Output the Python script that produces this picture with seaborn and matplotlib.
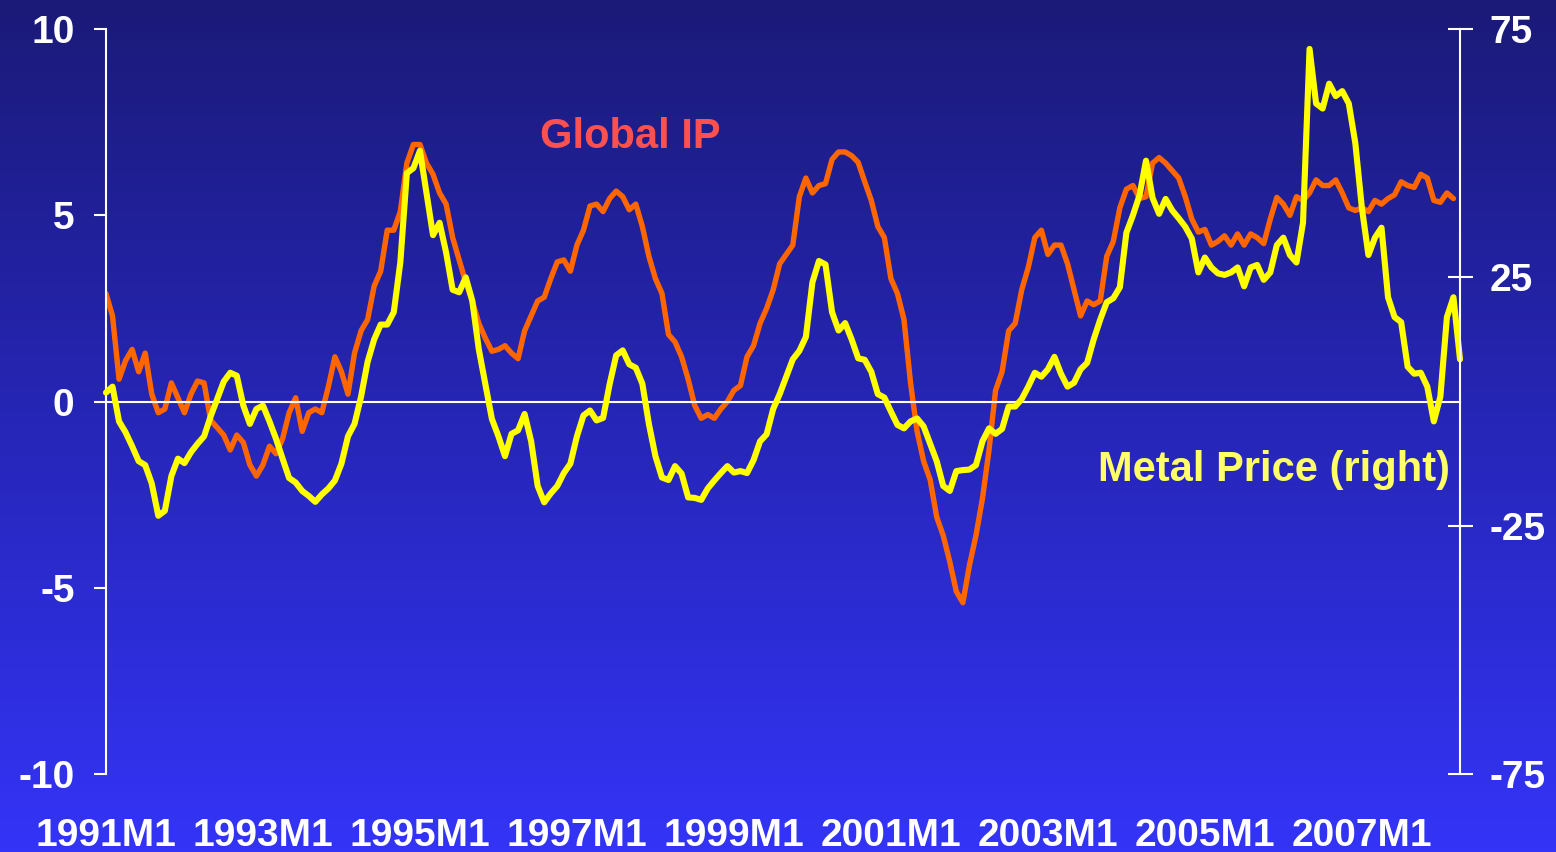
import numpy as np
import pandas as pd
import matplotlib
matplotlib.use("Agg")
import matplotlib.pyplot as plt
from matplotlib.colors import LinearSegmentedColormap
import seaborn as sns

# Monthly series starting 1991M1
global_ip = [
    2.9, 2.3, 0.6, 1.1, 1.4, 0.8, 1.3, 0.2, -0.3, -0.2,
    0.5, 0.1, -0.3, 0.2, 0.55, 0.5, -0.5, -0.7, -0.9, -1.3,
    -0.9, -1.1, -1.7, -2.0, -1.7, -1.2, -1.4, -1.0, -0.3, 0.1,
    -0.8, -0.3, -0.2, -0.3, 0.4, 1.2, 0.8, 0.2, 1.3, 1.9,
    2.2, 3.1, 3.5, 4.6, 4.6, 5.1, 6.4, 6.9, 6.9, 6.4,
    6.1, 5.6, 5.3, 4.4, 3.8, 3.2, 2.7, 2.1, 1.7, 1.35,
    1.4, 1.5, 1.3, 1.15, 1.9, 2.3, 2.7, 2.8, 3.3, 3.75,
    3.8, 3.5, 4.2, 4.6, 5.25, 5.3, 5.1, 5.45, 5.65, 5.5,
    5.15, 5.3, 4.7, 3.9, 3.3, 2.9, 1.8, 1.6, 1.2, 0.6,
    -0.1, -0.45, -0.35, -0.45, -0.2, 0.0, 0.3, 0.43, 1.2, 1.5,
    2.1, 2.5, 3.0, 3.7, 3.95, 4.2, 5.5, 6.0, 5.6, 5.8,
    5.85, 6.5, 6.7, 6.7, 6.6, 6.42, 5.9, 5.4, 4.7, 4.4,
    3.3, 2.9, 2.2, 0.5, -0.8, -1.6, -2.1, -3.1, -3.6, -4.3,
    -5.1, -5.4, -4.4, -3.6, -2.6, -1.3, 0.3, 0.8, 1.9, 2.1,
    3.0, 3.6, 4.4, 4.6, 3.95, 4.2, 4.2, 3.7, 3.0, 2.3,
    2.7, 2.6, 2.7, 3.9, 4.3, 5.2, 5.7, 5.8, 5.45, 5.5,
    6.4, 6.55, 6.4, 6.2, 6.0, 5.5, 4.9, 4.55, 4.62, 4.2,
    4.3, 4.45, 4.2, 4.5, 4.2, 4.5, 4.4, 4.24, 4.9, 5.48,
    5.3, 5.0, 5.5, 5.4, 5.6, 5.95, 5.8, 5.8, 5.95, 5.6,
    5.2, 5.13, 5.2, 5.1, 5.4, 5.3, 5.45, 5.55, 5.9, 5.8,
    5.75, 6.1, 6.0, 5.4, 5.35, 5.6, 5.45,
]

metal_price = [
    1.8, 3.0, -4.0, -6.2, -9.0, -12.0, -12.8, -16.5, -23.0, -22.0,
    -15.0, -11.5, -12.4, -10.2, -8.5, -7.0, -3.0, 0.5, 4.0, 5.8,
    5.2, -0.8, -4.5, -1.5, -0.8, -4.0, -7.5, -11.5, -15.4, -16.3,
    -18.0, -19.0, -20.2, -18.7, -17.5, -15.9, -12.5, -7.0, -4.5, 1.0,
    8.0, 12.5, 15.5, 15.5, 18.0, 28.0, 46.0, 47.0, 50.5, 42.0,
    33.5, 36.0, 30.0, 22.5, 22.0, 25.0, 20.3, 10.5, 3.5, -3.5,
    -7.0, -11.0, -6.5, -5.8, -2.5, -8.0, -17.0, -20.3, -18.5, -17.0,
    -14.4, -12.5, -7.0, -2.8, -1.8, -3.8, -3.3, 3.5, 9.3, 10.3,
    7.5, 6.8, 3.6, -4.5, -11.0, -15.3, -15.8, -13.0, -14.5, -19.3,
    -19.4, -19.8, -17.5, -15.9, -14.4, -13.0, -14.3, -14.0, -14.4, -11.8,
    -8.0, -6.6, -1.5, 1.5, 5.0, 8.5, 10.2, 13.0, 24.0, 28.3,
    27.6, 18.0, 14.3, 15.8, 12.5, 8.7, 8.4, 6.0, 1.5, 0.8,
    -2.0, -4.7, -5.4, -4.0, -3.4, -5.0, -8.5, -12.0, -17.0, -18.0,
    -14.0, -13.8, -13.7, -12.8, -8.0, -5.4, -6.5, -5.5, -1.0, -1.0,
    0.5, 3.0, 5.8, 5.0, 6.5, 9.0, 5.6, 3.0, 3.8, 6.5,
    7.8, 12.5, 16.5, 20.0, 20.8, 23.0, 34.0, 37.5, 41.5, 48.5,
    41.0, 37.8, 40.8, 38.5, 36.9, 35.2, 32.8, 26.0, 29.0, 27.0,
    25.8, 25.5, 26.0, 27.0, 23.2, 27.0, 27.5, 24.5, 26.0, 31.5,
    33.0, 29.5, 28.0, 36.0, 71.0, 60.0, 59.0, 64.0, 61.5, 62.5,
    60.0, 52.0, 39.0, 29.5, 33.0, 35.0, 21.0, 17.0, 16.0, 7.0,
    5.6, 5.8, 3.0, -4.0, 1.0, 17.0, 21.0, 8.5,
]

tick_months = [0, 24, 48, 72, 96, 120, 144, 168, 192]
tick_labels = ['1991M1', '1993M1', '1995M1', '1997M1', '1999M1',
               '2001M1', '2003M1', '2005M1', '2007M1']

sns.set_style('white')
plt.rcParams['font.family'] = ['Liberation Sans', 'DejaVu Sans']
plt.rcParams['font.weight'] = 'bold'
plt.rcParams['axes.unicode_minus'] = False

ip_df = pd.DataFrame({'month': np.arange(len(global_ip)), 'value': global_ip})
metal_df = pd.DataFrame({'month': np.arange(len(metal_price)), 'value': metal_price})

fig = plt.figure(figsize=(15.56, 8.52), dpi=100)

# gradient background
bg = fig.add_axes([0, 0, 1, 1], zorder=-10)
cmap = LinearSegmentedColormap.from_list('bg', ['#1b1a78', '#2626b8', '#3434f8'])
bg.imshow(np.linspace(0, 1, 256).reshape(-1, 1), aspect='auto', cmap=cmap,
          extent=[0, 1, 0, 1], origin='upper')
bg.axis('off')

ax = fig.add_axes([0.0681, 0.0915, 0.8702, 0.8744])
ax.patch.set_alpha(0)
sns.lineplot(data=ip_df, x='month', y='value', ax=ax, color='#ff6600', lw=3.9,
             solid_joinstyle='round', solid_capstyle='round')

ax2 = ax.twinx()
ax2.patch.set_alpha(0)
sns.lineplot(data=metal_df, x='month', y='value', ax=ax2, color='#ffff00', lw=4.4,
             solid_joinstyle='round', solid_capstyle='round', clip_on=False)

ax.set_xlim(0, 207)
ax.set_ylim(-10, 10)
ax2.set_ylim(-75, 75)
for a in (ax, ax2):
    a.set_xlabel('')
    a.set_ylabel('')
    for s in a.spines.values():
        s.set_visible(False)
        s.set_color('white')
        s.set_linewidth(1.5)

ax.spines['left'].set_visible(True)
ax.spines['bottom'].set_visible(True)
ax.spines['bottom'].set_position(('data', 0))
ax2.spines['right'].set_visible(True)

ax.set_xticks(tick_months)
ax.tick_params(axis='x', direction='out', length=8.6, width=1.5, color='white',
               labelbottom=False)
ax.set_yticks([-10, -5, 0, 5, 10])
ax.tick_params(axis='y', direction='out', length=8.6, width=1.5, colors='white',
               labelsize=28, pad=14)
ax2.set_yticks([-75, -25, 25, 75])
ax2.tick_params(axis='y', direction='inout', length=18, width=1.5, colors='white',
                labelsize=28, pad=12.5)

# date labels sit along the bottom edge, below the plot
sec = ax.secondary_xaxis('bottom')
sec.set_xticks(tick_months, labels=tick_labels)
sec.tick_params(length=0, pad=32, labelsize=28, colors='white')
sec.spines['bottom'].set_visible(False)

fig.text(630 / 1556, 1 - 148 / 852, 'Global IP', color='#ff5050', fontsize=30,
         fontweight='bold', ha='center', va='baseline')
fig.text(1450 / 1556, 1 - 481 / 852, 'Metal Price (right)', color='#ffff66',
         fontsize=30, fontweight='bold', ha='right', va='baseline')

fig.savefig('out.png', dpi=100)
